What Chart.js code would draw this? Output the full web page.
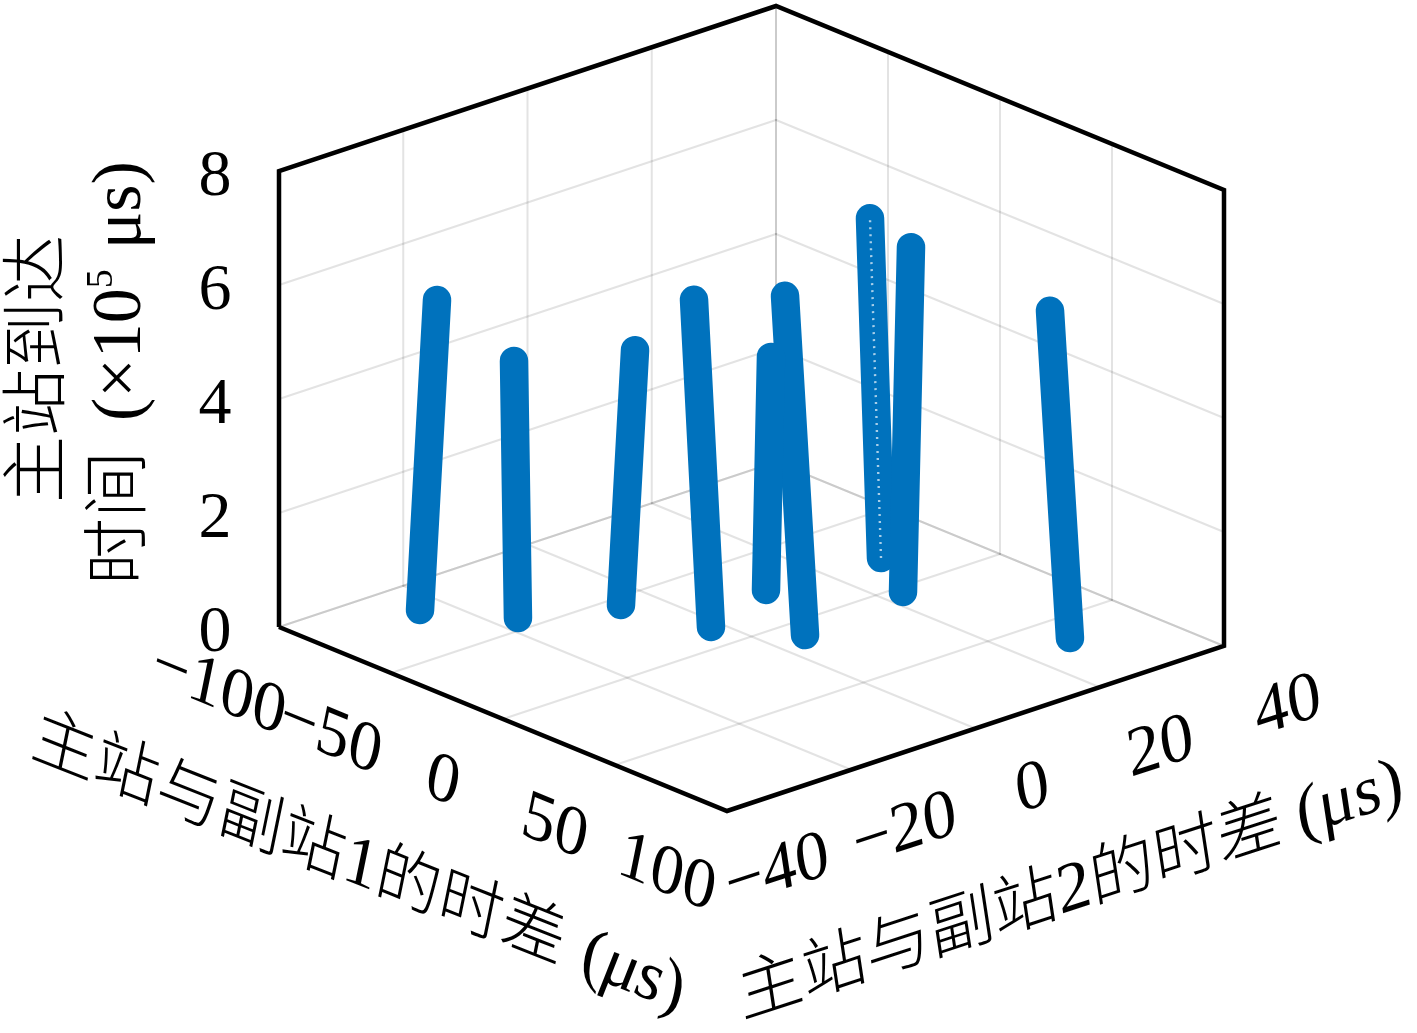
<!DOCTYPE html>
<html>
<head>
<meta charset="utf-8">
<script src="https://cdn.jsdelivr.net/npm/chart.js@4"></script>
<style>
  html, body { margin: 0; padding: 0; background: #fff; }
  canvas { display: block; }
</style>
</head>
<body>
<canvas id="myChart" width="1417" height="1033"></canvas>
<script>
// values, one entry per track
const startX = [-82.08, -57.72, -44.98, -13.79, 9.78, -25.06, -21.34, 3.48, 64.46];
const startY = [-23.76, -16.78, -4.79, -1.55, 5.09, 11.37, 28.54, 23.13, 28.02];
const startZ = [0, 0, 0, 0, 0, 0, 0, 0, 0];
const endX = [-78.69, -58.52, -42.18, -17.18, 5.78, -24.06, -23.54, 5.08, 60.46];
const endY = [-22.25, -17.13, -3.54, -3.06, 3.31, 11.81, 27.56, 23.84, 26.25];
const endZ = [5.44, 4.51, 4.47, 5.74, 5.95, 4.09, 5.96, 6.05, 5.74];

const xTicks = [-100, -50, 0, 50, 100];
const yTicks = [-40, -20, 0, 20, 40];
const zTicks = [0, 2, 4, 6, 8];

const BLUE = '#0072BD';
const GRID = 'rgba(38,38,38,0.13)';
const LATIN = '"Liberation Serif"';
const CJK = '"Noto Sans CJK SC"';

// orthographic view of the box, result is in page pixels
function project(x, y, z) {
    const u = (100 - x) / 200;
    const v = (y + 40) / 80;
    return {
        x: 727 - 448 * u + 497 * v,
        y: 811 - 184 * u - 165 * v - 57 * z
    };
}

function segment(a, b, color, width, order) {
    return {
        data: [project(a[0], a[1], a[2]), project(b[0], b[1], b[2])],
        borderColor: color,
        borderWidth: width,
        borderCapStyle: 'round',
        order: order
    };
}

const datasets = [];

// grid on floor and the two back walls
xTicks.forEach(t => {
    datasets.push(segment([t, -40, 0], [t, 40, 0], GRID, 2, 200));
    datasets.push(segment([t, 40, 0], [t, 40, 8], GRID, 2, 200));
});
yTicks.forEach(t => {
    datasets.push(segment([-100, t, 0], [100, t, 0], GRID, 2, 200));
    datasets.push(segment([-100, t, 0], [-100, t, 8], GRID, 2, 200));
});
zTicks.slice(0, 4).forEach(t => {
    datasets.push(segment([-100, -40, t], [-100, 40, t], GRID, 2, 200));
    datasets.push(segment([-100, 40, t], [100, 40, t], GRID, 2, 200));
});

// black outline
const outline = [
    [-100, -40, 0], [-100, -40, 8], [-100, 40, 8], [100, 40, 8],
    [100, 40, 0], [100, -40, 0], [-100, -40, 0]
];
datasets.push({
    data: outline.map(p => project(p[0], p[1], p[2])),
    borderColor: '#000',
    borderWidth: 4.5,
    borderJoinStyle: 'miter',
    order: 150
});

// tracks, later ones lie on top
startX.forEach((sx, i) => {
    const s = segment([sx, startY[i], startZ[i]], [endX[i], endY[i], endZ[i]], BLUE, 28.5, 100 - i * 2);
    datasets.push(s);
    if (i === 6) {
        // the open markers leave small holes along this one
        datasets.push({
            data: s.data,
            borderColor: '#a9cfe9',
            borderWidth: 2.4,
            borderDash: [2, 5],
            order: 99 - i * 2
        });
    }
});

function drawRuns(ctx, runs, x, y, a, down, align) {
    ctx.save();
    ctx.transform(a[0], a[1], down[0], down[1], x, y);
    ctx.textAlign = 'left';
    ctx.textBaseline = 'alphabetic';
    ctx.fillStyle = '#000';
    let total = 0;
    runs.forEach(r => {
        ctx.font = r.font;
        total += ctx.measureText(r.t).width + (r.gap || 0);
    });
    let pos = align === 'center' ? -total / 2 : 0;
    runs.forEach(r => {
        ctx.font = r.font;
        ctx.fillText(r.t, pos, r.dy || 0);
        pos += ctx.measureText(r.t).width + (r.gap || 0);
    });
    ctx.restore();
}

function tickRuns(v, size) {
    const font = size + 'px ' + LATIN;
    return v < 0
        ? [{ t: '\u2212', font: font }, { t: String(-v), font: font }]
        : [{ t: String(v), font: font }];
}

const labels = {
    id: 'labels',
    afterDraw(chart) {
        const ctx = chart.ctx;
        const cjk = '300 67px ' + CJK;
        const tex = '70px ' + LATIN;
        const texIt = 'italic 70px ' + LATIN;

        const xDir = [0.925, 0.38];
        const xDown = [-0.2, 0.98];
        xTicks.forEach(t => {
            const p = project(t, -40, 0);
            drawRuns(ctx, tickRuns(t, 69), p.x - 64, p.y + 81, xDir, xDown, 'center');
        });

        const yDir = [0.95, -0.31];
        const yDown = [0.15, 0.99];
        yTicks.forEach(t => {
            const p = project(100, t, 0);
            drawRuns(ctx, tickRuns(t, 69), p.x + 60 + t * 0.17, p.y + 79, yDir, yDown, 'center');
        });

        zTicks.forEach(t => {
            const p = project(-100, -40, t);
            drawRuns(ctx, tickRuns(t, 66), p.x - 64, p.y + 24, [1, 0], [0, 1], 'center');
        });

        drawRuns(ctx, [
            { t: '主站与副站', font: cjk },
            { t: '1', font: tex },
            { t: '的时差', font: cjk, gap: 20 },
            { t: '(', font: tex },
            { t: 'μs', font: texIt },
            { t: ')', font: tex }
        ], 29, 755, [0.93, 0.367], xDown);

        drawRuns(ctx, [
            { t: '主站与副站', font: cjk },
            { t: '2', font: tex },
            { t: '的时差', font: cjk, gap: 16 },
            { t: '(μs)', font: tex }
        ], 742, 1018, yDir, yDown);

        drawRuns(ctx, [{ t: '主站到达', font: cjk }], 59, 503, [0, -1], [1, 0]);
        drawRuns(ctx, [
            { t: '时间', font: cjk, gap: 30 },
            { t: '(×10', font: tex },
            { t: '5', font: '38px ' + LATIN, dy: -28, gap: 20 },
            { t: 'μs)', font: tex }
        ], 140, 585, [0, -1], [1, 0]);
    }
};

new Chart(document.getElementById('myChart'), {
    type: 'scatter',
    data: { datasets: datasets },
    options: {
        responsive: false,
        animation: false,
        showLine: true,
        layout: { padding: 0 },
        elements: { point: { radius: 0 }, line: { tension: 0 } },
        plugins: { legend: { display: false }, tooltip: { enabled: false } },
        scales: {
            x: { display: false, min: 0, max: 1417 },
            y: { display: false, min: 0, max: 1033, reverse: true }
        }
    },
    plugins: [labels]
});
</script>
</body>
</html>
